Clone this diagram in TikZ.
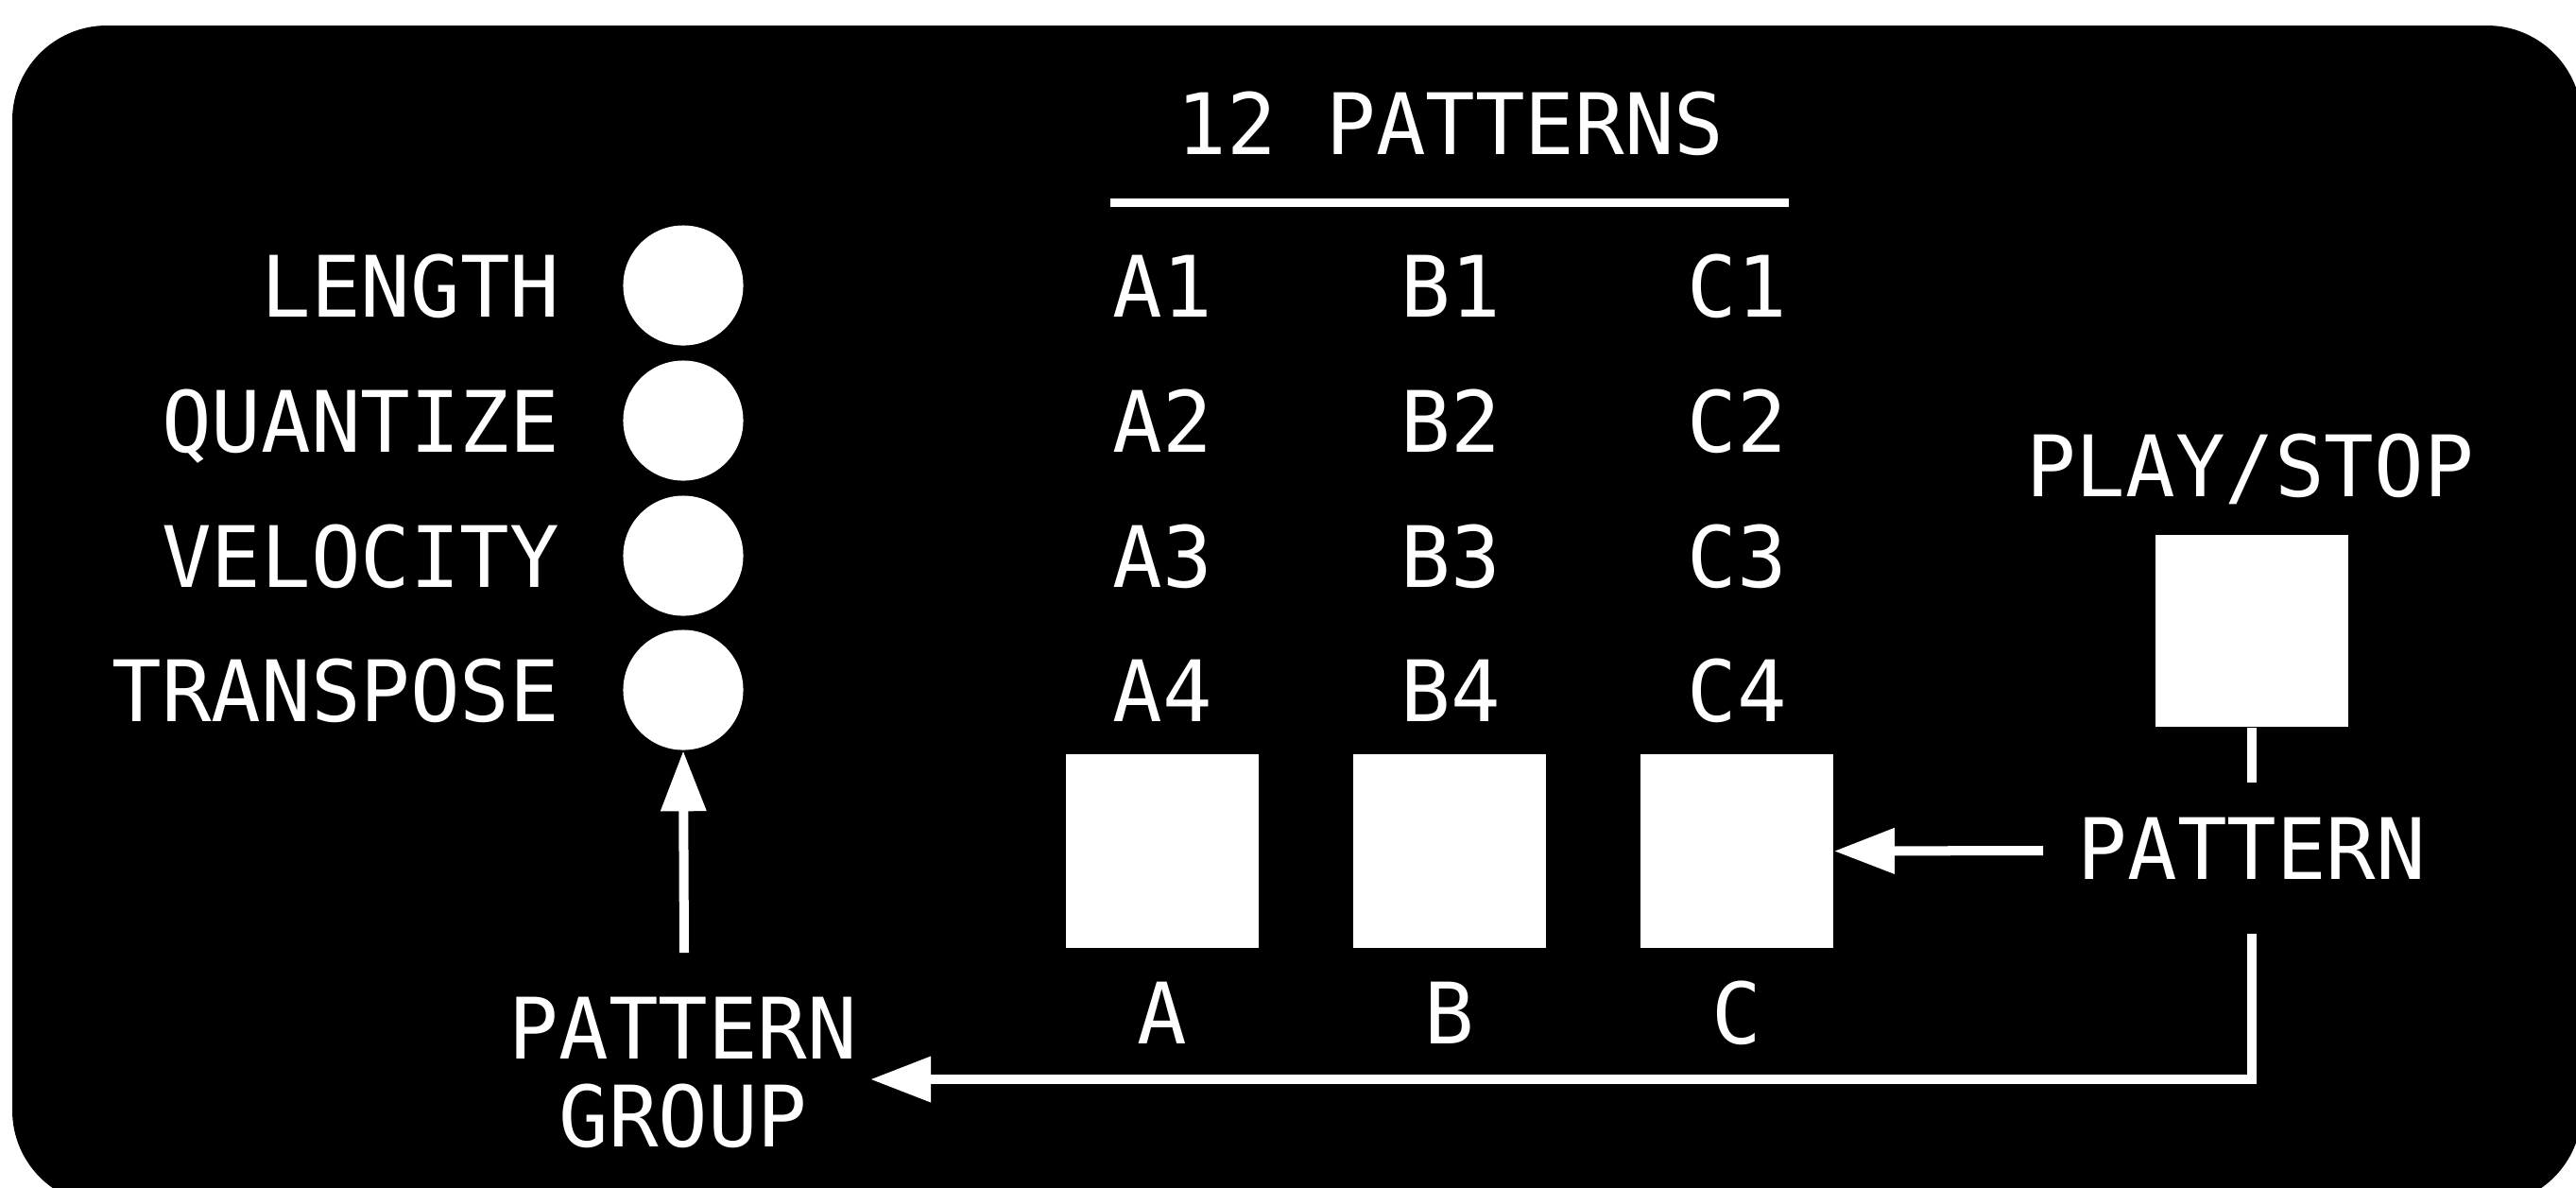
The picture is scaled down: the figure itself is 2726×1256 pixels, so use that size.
\documentclass[tikz,border=0pt]{standalone}
\usepackage{fontspec}
\setmonofont[FakeStretch=0.975]{DejaVu Sans Mono}
\usetikzlibrary{arrows.meta}
\begin{document}
\begin{tikzpicture}[x=0.01cm,y=-0.01cm,
  txt/.style={text=white, font=\ttfamily\fontsize{25.5}{26.2}\selectfont, inner sep=0pt, anchor=base},
  knob/.style={circle, fill=white, minimum size=1.27cm, inner sep=0pt},
  pad/.style={rectangle, fill=white, minimum size=2.04cm, inner sep=0pt},
  wire/.style={draw=white, line width=0.1cm},
  arr/.style={wire, -{Triangle[length=0.64cm,width=0.46cm]}}]
\useasboundingbox (0,0) rectangle (2726,1256);
\clip (0,0) rectangle (2726,1256);
\fill[black, rounded corners=1cm] (13,27) rectangle (2732,1275);

% title
\node[txt] (title) at (1535,163) {12 PATTERNS};
\draw[white, line width=0.09cm] (1175,214.5) -- (1893,214.5);

% knobs and labels
\node[knob] (k1) at (723,302) {};
\node[knob] (k2) at (723,445) {};
\node[knob] (k3) at (723,588) {};
\node[knob] (k4) at (723,730) {};
\node[txt, anchor=base east] (l1) at (593,335) {LENGTH};
\node[txt, anchor=base east] (l2) at (593,478) {QUANTIZE};
\node[txt, anchor=base east] (l3) at (593,621) {VELOCITY};
\node[txt, anchor=base east] (l4) at (593,763) {TRANSPOSE};

% pattern grid
\node[txt] (a1) at (1230,335) {A1};
\node[txt] (b1) at (1535,335) {B1};
\node[txt] (c1) at (1838,335) {C1};
\node[txt] (a2) at (1230,478) {A2};
\node[txt] (b2) at (1535,478) {B2};
\node[txt] (c2) at (1838,478) {C2};
\node[txt] (a3) at (1230,621) {A3};
\node[txt] (b3) at (1535,621) {B3};
\node[txt] (c3) at (1838,621) {C3};
\node[txt] (a4) at (1230,763) {A4};
\node[txt] (b4) at (1535,763) {B4};
\node[txt] (c4) at (1838,763) {C4};

% pads
\node[pad] (padA) at (1230,900.5) {};
\node[pad] (padB) at (1534,900.5) {};
\node[pad] (padC) at (1838,900.5) {};
\node[txt] (la) at (1230,1104) {A};
\node[txt] (lb) at (1534,1104) {B};
\node[txt] (lc) at (1838,1104) {C};

% play/stop
\node[txt] (playlbl) at (2381,525) {PLAY/STOP};
\node[pad, minimum size=2.03cm] (play) at (2383,667.5) {};

% pattern button label
\node[txt] (pat) at (2383,930) {PATTERN};
\coordinate (patN) at (2383,828);
\coordinate (patW) at (2162,900);
\coordinate (patS) at (2383,988);

% pattern group label
\node[txt, align=center] (pgroup) at (723,1213) {PATTERN\\GROUP};
\coordinate (pgN) at (724,1008);
\coordinate (pgE) at (921,1142);

% connectors
\draw[wire] (play.south) -- (patN);
\draw[arr] (patW) -- (padC.east);
\draw[arr] (patS) |- (pgE);
\draw[arr] (pgN) -- (k4.south);
\end{tikzpicture}
\end{document}
